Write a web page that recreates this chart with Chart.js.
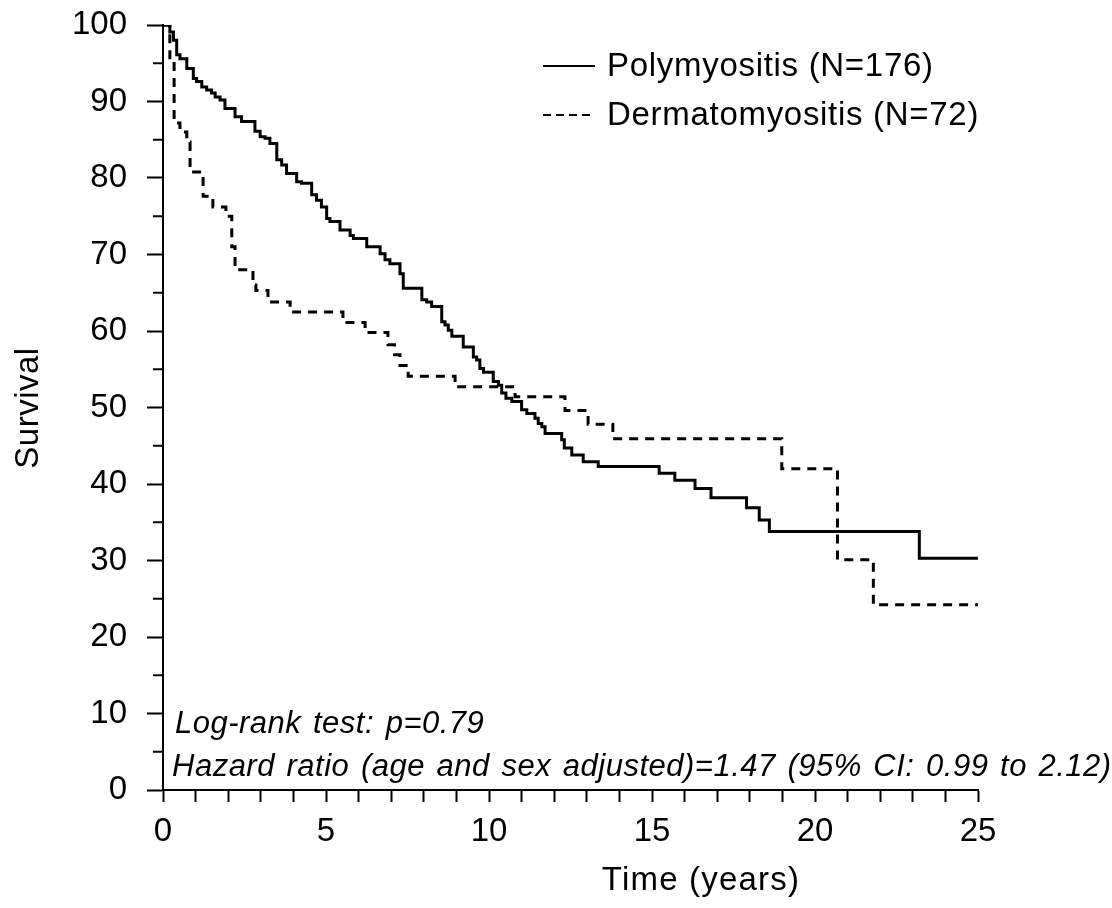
<!DOCTYPE html>
<html>
<head>
<meta charset="utf-8">
<title>Survival: polymyositis vs dermatomyositis</title>
<script src="https://cdn.jsdelivr.net/npm/chart.js"></script>
<style>
  html, body { margin: 0; padding: 0; background: #fff; }
</style>
</head>
<body>
<canvas id="km" width="1112" height="908"></canvas>
<script>
// Kaplan-Meier steps: time (years) of each drop, survival (%) after it
const polyTimes = [0, 0.21, 0.32, 0.42, 0.52, 0.73, 0.93, 1.03, 1.19, 1.34, 1.49, 1.60, 1.75, 1.90,
  2.21, 2.41, 2.82, 2.98, 3.13, 3.28, 3.49, 3.64, 3.79, 4.10, 4.25, 4.56, 4.71, 4.86, 5.02, 5.12,
  5.43, 5.74, 5.84, 6.25, 6.66, 6.81, 6.96, 7.27, 7.37, 7.94, 8.09, 8.24, 8.55, 8.65, 8.75, 8.86,
  9.21, 9.52, 9.62, 9.72, 9.83, 10.13, 10.29, 10.39, 10.52, 10.70, 11.00, 11.16, 11.41, 11.51,
  11.62, 11.72, 12.23, 12.31, 12.54, 12.89, 13.35, 15.22, 15.70, 16.32, 16.81, 17.90, 18.29,
  18.60, 23.20, 25];
const polySurv = [100, 99.1, 98.0, 96.1, 95.6, 94.3, 93.0, 92.6, 91.9, 91.5, 91.1, 90.6, 90.2, 89.1,
  88.0, 87.4, 86.1, 85.4, 85.2, 84.5, 82.4, 81.7, 80.6, 79.5, 79.3, 77.8, 77.1, 76.2, 74.7, 74.3,
  73.2, 72.5, 72.1, 71.0, 70.1, 69.3, 68.8, 67.5, 65.6, 64.1, 63.8, 63.2, 61.2, 60.8, 60.1, 59.3,
  57.9, 56.6, 56.2, 55.1, 54.6, 53.4, 52.9, 51.9, 51.2, 50.8, 49.7, 49.2, 48.6, 47.9,
  47.5, 46.6, 45.8, 44.7, 43.8, 42.9, 42.3, 41.4, 40.5, 39.4, 38.2, 36.9, 35.3,
  33.8, 30.3, 30.3];

const dermTimes = [0, 0.21, 0.34, 0.52, 0.73, 0.83, 1.23, 1.53, 1.93, 2.11, 2.21, 2.76, 2.85, 3.22,
  3.90, 5.52, 6.20, 6.90, 7.10, 7.27, 7.52, 8.96, 10.80, 12.33, 13.04, 13.80, 18.98, 20.69, 21.79, 25];
const dermSurv = [100, 95.5, 87.2, 86.0, 84.7, 80.8, 77.6, 76.2, 75.0, 71.0, 68.0, 66.0, 65.3, 63.8,
  62.5, 61.1, 59.8, 58.2, 56.9, 55.5, 54.1, 52.7, 51.4, 49.6, 47.8, 45.9, 42.0, 30.1, 24.2, 24.2];

const seriesNames = ['Polymyositis (N=176)', 'Dermatomyositis (N=72)'];
const notes = ['Log-rank test: p=0.79', 'Hazard ratio (age and sex adjusted)=1.47 (95% CI: 0.99 to 2.12)'];
const xTitle = 'Time (years)';
const yTitle = 'Survival';

const FONT = "'Liberation Sans', Arial, Helvetica, sans-serif";

const toPoints = (ts, ss) => ts.map((t, i) => ({ x: t, y: ss[i] }));

// minor y ticks, legend, notes and axis titles
const extras = {
  id: 'extras',
  afterDraw(chart) {
    const ctx = chart.ctx;
    const area = chart.chartArea;
    const ys = chart.scales.y;
    ctx.save();
    ctx.strokeStyle = '#000';
    ctx.fillStyle = '#000';
    ctx.lineWidth = 2;

    for (let v = 5; v < 100; v += 10) {
      const py = ys.getPixelForValue(v);
      ctx.beginPath();
      ctx.moveTo(area.left - 10, py);
      ctx.lineTo(area.left, py);
      ctx.stroke();
    }

    // legend
    ctx.font = '33px ' + FONT;
    ctx.letterSpacing = '0.7px';
    ctx.textBaseline = 'middle';
    ctx.textAlign = 'left';
    const legY = [66, 115];
    chart.data.datasets.forEach((ds, i) => {
      ctx.setLineDash(ds.borderDash ? [8, 5] : []);
      ctx.beginPath();
      ctx.moveTo(543, legY[i]);
      ctx.lineTo(595, legY[i]);
      ctx.stroke();
      ctx.setLineDash([]);
      ctx.fillText(ds.label, 607, legY[i] + 1);
    });

    // notes
    ctx.font = 'italic 31px ' + FONT;
    ctx.letterSpacing = '0.5px';
    ctx.wordSpacing = '2.5px';
    ctx.textBaseline = 'alphabetic';
    ctx.fillText(notes[0], 175, 733);
    ctx.fillText(notes[1], 172, 776);
    ctx.wordSpacing = '0px';

    // axis titles
    ctx.font = '33px ' + FONT;
    ctx.letterSpacing = '1.2px';
    ctx.textAlign = 'center';
    ctx.fillText(xTitle, 701, 890);
    ctx.letterSpacing = '0.5px';
    ctx.translate(38, 408);
    ctx.rotate(-Math.PI / 2);
    ctx.fillText(yTitle, 0, 0);
    ctx.restore();
  }
};

new Chart(document.getElementById('km'), {
  type: 'line',
  data: {
    datasets: [
      {
        label: seriesNames[0],
        data: toPoints(polyTimes, polySurv),
        borderColor: '#000',
        borderWidth: 3,
        stepped: true,
        pointRadius: 0,
        fill: false
      },
      {
        label: seriesNames[1],
        data: toPoints(dermTimes, dermSurv),
        borderColor: '#000',
        borderWidth: 3,
        borderDash: [9, 7],
        stepped: true,
        pointRadius: 0,
        fill: false
      }
    ]
  },
  options: {
    responsive: false,
    devicePixelRatio: 1,
    animation: false,
    parsing: false,
    layout: { padding: { left: 0, right: 134, top: 25, bottom: 0 } },
    plugins: {
      legend: { display: false },
      tooltip: { enabled: false }
    },
    scales: {
      x: {
        type: 'linear',
        min: 0,
        max: 25,
        afterFit: s => { s.height = 118; s.paddingLeft = 0; s.paddingRight = 0; },
        ticks: {
          stepSize: 1,
          autoSkip: false,
          maxRotation: 0,
          padding: 10,
          color: '#000',
          font: { family: FONT, size: 33 },
          callback: v => (v % 5 === 0 ? v : '')
        },
        grid: {
          drawOnChartArea: false,
          drawTicks: true,
          tickLength: 12,
          tickWidth: 2,
          tickColor: '#000'
        },
        border: { display: true, color: '#000', width: 2 }
      },
      y: {
        min: 0,
        max: 100,
        afterFit: s => { s.width = 163; s.paddingTop = 0; s.paddingBottom = 0; },
        ticks: {
          stepSize: 5,
          autoSkip: false,
          padding: 20,
          color: '#000',
          font: { family: FONT, size: 33 },
          callback: v => (v % 10 === 0 ? v : '')
        },
        grid: {
          drawOnChartArea: false,
          drawTicks: true,
          tickLength: 16,
          tickWidth: 2,
          tickColor: c => (c.tick && c.tick.value % 10 !== 0 ? 'rgba(0,0,0,0)' : '#000')
        },
        border: { display: true, color: '#000', width: 2 }
      }
    }
  },
  plugins: [extras]
});
</script>
</body>
</html>
